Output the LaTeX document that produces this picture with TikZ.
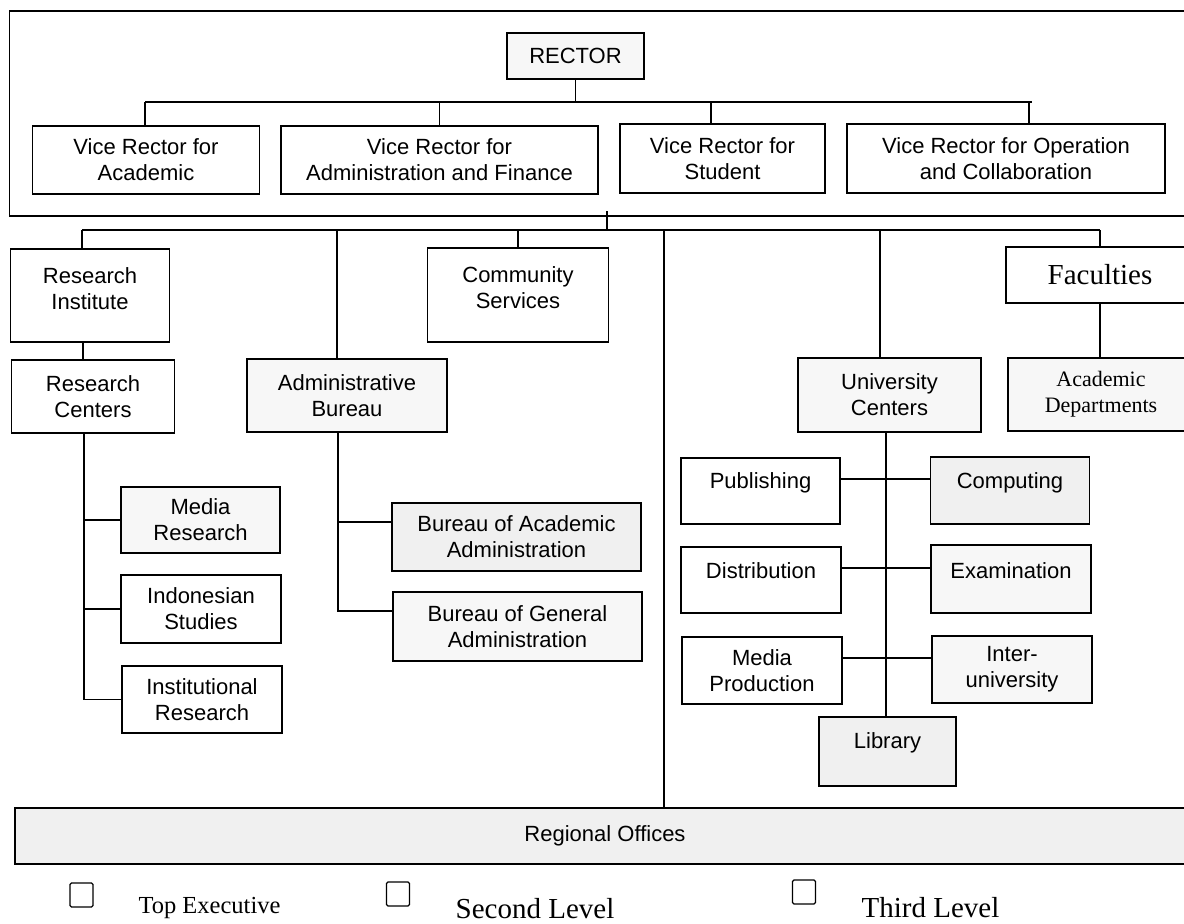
\documentclass[tikz,border=0pt]{standalone}
\usepackage{fontspec}
\setmainfont{Liberation Serif}
\newfontfamily\arialf{Liberation Sans}
\newfontfamily\timesf{Liberation Serif}
\tikzset{
  box/.style={draw=black, line width=1.1pt, inner sep=0pt, outer sep=0pt, align=center,
     font=\arialf\fontsize{22}{26}\selectfont},
  txt/.style={inner sep=0pt, align=center, font=\arialf\fontsize{22}{26}\selectfont},
  serifbox/.style={box, font=\timesf\fontsize{22}{26}\selectfont},
  shadeA/.style={fill=gray!6},
  shadeB/.style={fill=gray!12},
  conn/.style={draw=black, line width=1.1pt},
  legbox/.style={draw=black, line width=1.1pt, rounded corners=1.5pt, minimum width=23pt, minimum height=24pt, inner sep=0pt},
  legtxt/.style={inner sep=0pt, font=\timesf\fontsize{29}{32}\selectfont}
}
\begin{document}
\begin{tikzpicture}[x=1pt,y=-1pt]
\useasboundingbox (0,0) rectangle (1184,924);
\clip (0,0) rectangle (1184,924);
% top frame
\draw[conn] (9.5,11) rectangle (1200,216);
% rector
\node[box, shadeA, minimum width=137pt, minimum height=46pt] (rector) at (575.5,56) {RECTOR};
% vice rectors
\node[box, minimum width=227pt, minimum height=68pt] (vra) at (146,160) {Vice Rector for\\Academic};
\node[box, minimum width=317pt, minimum height=68pt] (vrf) at (439.5,160) {Vice Rector for\\Administration and Finance};
\node[box, minimum width=205pt, minimum height=69pt] (vrs) at (722.5,158.5) {Vice Rector for\\Student};
\node[box, minimum width=318pt, minimum height=69pt] (vro) at (1006,158.5) {Vice Rector for Operation\\and Collaboration};
\coordinate (bus1) at (0,102);
\draw[conn] (rector.south) -- (rector.south |- bus1);
\draw[conn] ([xshift=-1pt]vra.north |- bus1) -- ([xshift=26pt]vro.north |- bus1);
\draw[conn] ([xshift=-1pt]vra.north) -- ([xshift=-1pt]vra.north |- bus1);
\draw[conn] (vrf.north) -- (vrf.north |- bus1);
\draw[conn] ([xshift=-11.5pt]vrs.north) -- ([xshift=-11.5pt]vrs.north |- bus1);
\draw[conn] ([xshift=23pt]vro.north) -- ([xshift=23pt]vro.north |- bus1);
% second level
\coordinate (bus2) at (0,230);
\coordinate (tick) at (607,211);
\draw[conn] (tick) -- (tick |- bus2);
\node[box, minimum width=159pt, minimum height=93pt,
  label={[txt, yshift=7pt]center:Research\\Institute}] (ri) at (90,295.5) {};
\node[box, minimum width=180.5pt, minimum height=94pt,
  label={[txt, yshift=7pt]center:Community\\Services}] (cs) at (518,295) {};
\node[serifbox, minimum width=188pt, minimum height=56pt, font=\timesf\fontsize{29}{32}\selectfont] (fac) at (1100,275) {Faculties};
\node[box, minimum width=163.5pt, minimum height=73pt] (rc) at (93,396.5) {Research\\Centers};
\node[box, shadeA, minimum width=200pt, minimum height=73pt] (ab) at (347,395.5) {Administrative\\Bureau};
\node[box, shadeA, minimum width=183pt, minimum height=74pt] (uc) at (889.5,395) {University\\Centers};
\node[serifbox, shadeA, minimum width=186pt, minimum height=73pt] (ad) at (1101,394.5) {Academic\\Departments};
\coordinate (vline) at (664,808);
\draw[conn] ([xshift=-8pt]ri.north |- bus2) -- (fac.north |- bus2);
\draw[conn] ([xshift=-8pt]ri.north) -- ([xshift=-8pt]ri.north |- bus2);
\draw[conn] (cs.north) -- (cs.north |- bus2);
\draw[conn] (fac.north) -- (fac.north |- bus2);
\draw[conn] ([xshift=-10pt]ab.north) -- ([xshift=-10pt]ab.north |- bus2);
\draw[conn] ([xshift=-9.5pt]uc.north) -- ([xshift=-9.5pt]uc.north |- bus2);
\draw[conn] (vline |- bus2) -- (vline);
\draw[conn] ([xshift=-7pt]ri.south) -- ([xshift=-7pt]ri.south |- rc.north);
\draw[conn] (fac.south) -- (fac.south |- ad.north);
% research centers
\node[box, shadeA, minimum width=159pt, minimum height=66pt] (mr) at (200.5,520) {Media\\Research};
\node[box, minimum width=160pt, minimum height=68pt] (is) at (201,609) {Indonesian\\Studies};
\node[box, minimum width=160pt, minimum height=67pt] (ir) at (202,699.5) {Institutional\\Research};
\draw[conn] ([xshift=-9pt]rc.south) -- ([xshift=-9pt]rc.south |- ir.west) -- (ir.west);
\draw[conn] ([xshift=-9pt]rc.south |- mr.west) -- (mr.west);
\draw[conn] ([xshift=-9pt]rc.south |- is.west) -- (is.west);
% bureaus
\node[box, shadeB, minimum width=249pt, minimum height=68pt] (baa) at (516.5,537) {Bureau of Academic\\Administration};
\node[box, shadeA, minimum width=249pt, minimum height=69pt] (bga) at (517.5,626.5) {Bureau of General\\Administration};
\draw[conn] ([xshift=-9pt]ab.south) -- ([xshift=-9pt]ab.south |- 0,611) -- ([yshift=15.5pt]bga.west);
\draw[conn] ([xshift=-9pt]ab.south |- 0,522) -- ([yshift=15pt]baa.west);
% university centers
\node[box, minimum width=159pt, minimum height=66pt,
  label={[txt, yshift=8pt]center:Publishing}] (pub) at (760.5,491) {};
\node[box, shadeB, minimum width=159.5pt, minimum height=67pt,
  label={[txt, yshift=7.5pt]center:Computing}] (comp) at (1010,490.5) {};
\node[box, minimum width=160pt, minimum height=66pt,
  label={[txt, yshift=9pt]center:Distribution}] (dist) at (761,580) {};
\node[box, shadeA, minimum width=160pt, minimum height=68pt,
  label={[txt, yshift=8.5pt]center:Examination}] (exam) at (1011,579) {};
\node[box, minimum width=160pt, minimum height=67pt] (mp) at (762,670.5) {Media\\Production};
\node[box, shadeA, minimum width=160pt, minimum height=67pt] (iu) at (1012,669.5) {Inter-\\university};
\node[box, shadeB, minimum width=137pt, minimum height=69pt,
  label={[txt, yshift=8.5pt]center:Library}] (lib) at (887.5,751.5) {};
\draw[conn] ([xshift=-3.5pt]uc.south) -- ([xshift=-3.5pt]uc.south |- lib.north);
\draw[conn] ([yshift=12pt]pub.east) -- ([yshift=12pt]pub.east -| comp.west);
\draw[conn] ([yshift=12pt]dist.east) -- ([yshift=12pt]dist.east -| exam.west);
\draw[conn] ([yshift=12.5pt]mp.east) -- ([yshift=12.5pt]mp.east -| iu.west);
% regional offices
\node[box, shadeB, minimum width=1180pt, minimum height=56pt] (ro) at (605,836) {Regional Offices};
% legend
\node[legbox] (l1) at (81.5,895) {};
\node[legbox] (l2) at (398,894) {};
\node[legbox] (l3) at (804,892) {};
\node[legtxt, font=\timesf\fontsize{24.5}{28}\selectfont] (t1) at (209.5,908) {Top Executive};
\node[legtxt] (t2) at (535,908.5) {Second Level};
\node[legtxt] (t3) at (930.5,907.5) {Third Level};
\end{tikzpicture}
\end{document}
